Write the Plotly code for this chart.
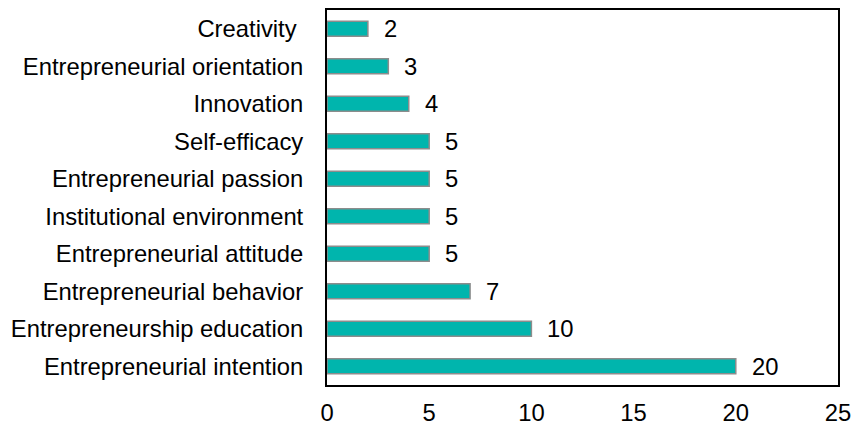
import plotly.graph_objects as go

# data, bottom to top as drawn
CATEGORIES = [
    "Entrepreneurial intention",
    "Entrepreneurship education",
    "Entrepreneurial behavior",
    "Entrepreneurial attitude",
    "Institutional environment",
    "Entrepreneurial passion",
    "Self-efficacy",
    "Innovation",
    "Entrepreneurial orientation",
    "Creativity\u00a0",
]
COUNTS = [20, 10, 7, 5, 5, 5, 5, 4, 3, 2]
X_TICKS = [0, 5, 10, 15, 20, 25]

BAR_COLOR = "#00B5AD"
EDGE_COLOR = "#8C8C8C"
FONT = "Liberation Sans, Arial, sans-serif"
FSIZE = 23.8

fig = go.Figure(go.Bar(
    x=COUNTS,
    y=CATEGORIES,
    orientation="h",
    width=0.4,
    marker=dict(color=BAR_COLOR, line=dict(color=EDGE_COLOR, width=1.5)),
    hoverinfo="x+y",
))

# value labels just right of each bar
for cat, val in zip(CATEGORIES, COUNTS):
    fig.add_annotation(
        x=val, y=cat, text=str(val), showarrow=False,
        xanchor="left", xshift=14,
        font=dict(size=FSIZE, color="#000000", family=FONT),
    )

fig.update_layout(
    width=852, height=425,
    paper_bgcolor="white", plot_bgcolor="white",
    font=dict(family=FONT, size=FSIZE, color="#000000"),
    margin=dict(l=327, r=14, t=10, b=40),
    showlegend=False,
    xaxis=dict(
        range=[0, 25],
        tickvals=X_TICKS,
        showgrid=False, zeroline=False,
        showline=True, linecolor="#000000", linewidth=2, mirror=True,
        ticks="", ticklabelstandoff=5, automargin=False,
        tickfont=dict(size=FSIZE, family=FONT),
    ),
    yaxis=dict(
        categoryorder="array", categoryarray=CATEGORIES,
        showgrid=False, zeroline=False,
        showline=True, linecolor="#000000", linewidth=2, mirror=True,
        ticks="", ticklabelstandoff=17, automargin=False,
        tickfont=dict(size=FSIZE, family=FONT),
    ),
)

# drop the default 8px page margin so the figure fills the window exactly
fig.write_html(
    "out.html",
    config={"displayModeBar": False},
    post_script="document.body.style.margin='0';",
)
